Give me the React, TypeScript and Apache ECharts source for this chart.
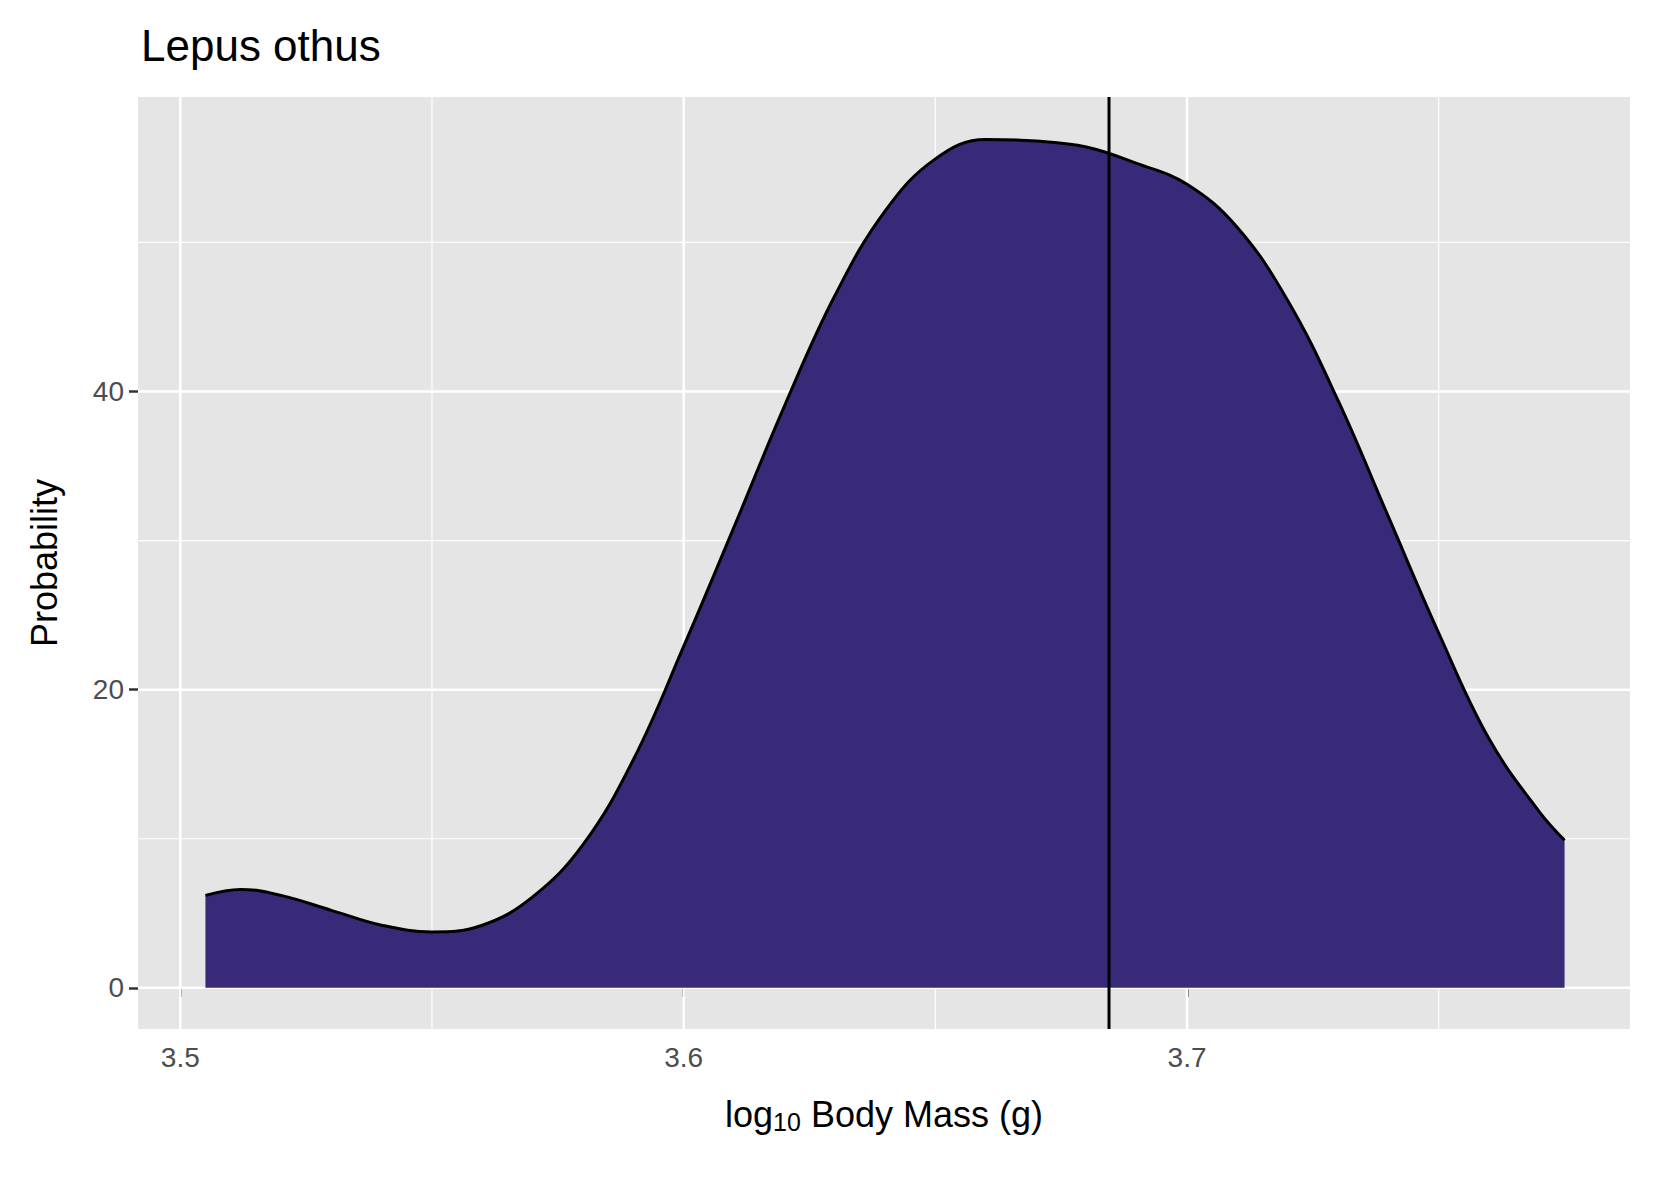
import React, { useEffect, useRef } from 'react';
import * as echarts from 'echarts';

const densityX = [3.505, 3.512, 3.52, 3.53, 3.54, 3.55, 3.56, 3.57, 3.58, 3.59, 3.6, 3.61, 3.62, 3.63, 3.64, 3.65, 3.66, 3.67, 3.68, 3.69, 3.7, 3.71, 3.72, 3.73, 3.74, 3.75, 3.76, 3.77, 3.775];
const densityY = [6.2, 6.6, 6.2, 5.2, 4.2, 3.75, 4.2, 6.1, 9.6, 15.3, 22.9, 30.9, 39, 46.4, 52.1, 55.6, 56.9, 56.8, 56.4, 55.3, 53.9, 51, 46.1, 39.4, 31.6, 23.8, 16.7, 11.8, 9.9];
const observedMass = 3.6845;
const xTicks = [3.5, 3.6, 3.7];
const xMinor = [3.55, 3.65, 3.75];
const yTicks = [0, 20, 40];
const yMinor = [10, 30, 50];

const X_MIN = 3.4916;
const X_MAX = 3.788;
const Y_MIN = -2.76;
const Y_MAX = 59.75;

export default function App() {
  const ref = useRef<HTMLDivElement | null>(null);

  useEffect(() => {
    document.body.style.margin = '0';
    if (!ref.current) return;
    const chart = echarts.init(ref.current, undefined, { renderer: 'svg' });
    const gridLine = (pts: number[][], w: number) => ({
      type: 'line', data: pts, z: 1, silent: true, symbol: 'none',
      lineStyle: { color: '#fff', width: w }, tooltip: { show: false },
    });
    const gridSeries = [
      ...xMinor.map((v) => gridLine([[v, Y_MIN], [v, Y_MAX]], 1.2)),
      ...yMinor.map((v) => gridLine([[X_MIN, v], [X_MAX, v]], 1.2)),
      ...xTicks.map((v) => gridLine([[v, Y_MIN], [v, Y_MAX]], 2.5)),
      ...yTicks.map((v) => gridLine([[X_MIN, v], [X_MAX, v]], 2.5)),
    ];
    chart.setOption({
      animation: false,
      textStyle: { fontFamily: 'Liberation Sans, Arial, sans-serif' },
      title: { text: 'Lepus othus', left: 136, top: 18, textStyle: { color: '#000', fontSize: 44, fontWeight: 'normal' } },
      grid: { left: 138, right: 23, top: 97, bottom: 152, show: true, backgroundColor: '#E5E5E5', borderWidth: 0 },
      xAxis: {
        type: 'value', min: X_MIN, max: X_MAX,
        axisLine: { show: false },
        splitLine: { show: false },
        axisTick: { show: true, customValues: xTicks, length: 9, lineStyle: { color: '#333', width: 2.5 } },
        axisLabel: { customValues: xTicks, color: '#4D4D4D', fontSize: 28, margin: 14, formatter: (v: number) => v.toFixed(1) },
        name: '{a|log}{s|10}{a| Body Mass (g)}', nameLocation: 'middle', nameGap: 66,
        nameTextStyle: { rich: { a: { fontSize: 36, color: '#000' }, s: { fontSize: 25, color: '#000', verticalAlign: 'bottom', padding: [14, 0, 0, 0] } } },
      },
      yAxis: {
        type: 'value', min: Y_MIN, max: Y_MAX,
        axisLine: { show: false },
        splitLine: { show: false },
        axisTick: { show: true, customValues: yTicks, length: 9, lineStyle: { color: '#333', width: 2.5 } },
        axisLabel: { customValues: yTicks, color: '#4D4D4D', fontSize: 28, margin: 14 },
        name: 'Probability', nameLocation: 'middle', nameGap: 76, nameRotate: 90,
        nameTextStyle: { fontSize: 36, color: '#000' },
      },
      series: [
        ...gridSeries,
        {
          type: 'line', z: 3, smooth: 0.4, symbol: 'none',
          data: densityX.map((x, i) => [x, densityY[i]]),
          lineStyle: { color: '#000', width: 3 },
          areaStyle: { color: '#382A78', opacity: 1, origin: 0 },
        },
        {
          type: 'line', z: 4, symbol: 'none', silent: true,
          data: [[observedMass, Y_MIN], [observedMass, Y_MAX]],
          lineStyle: { color: '#000', width: 3 },
        },
      ],
    });
    return () => chart.dispose();
  }, []);

  return <div ref={ref} style={{ width: 1653, height: 1181 }} />;
}
